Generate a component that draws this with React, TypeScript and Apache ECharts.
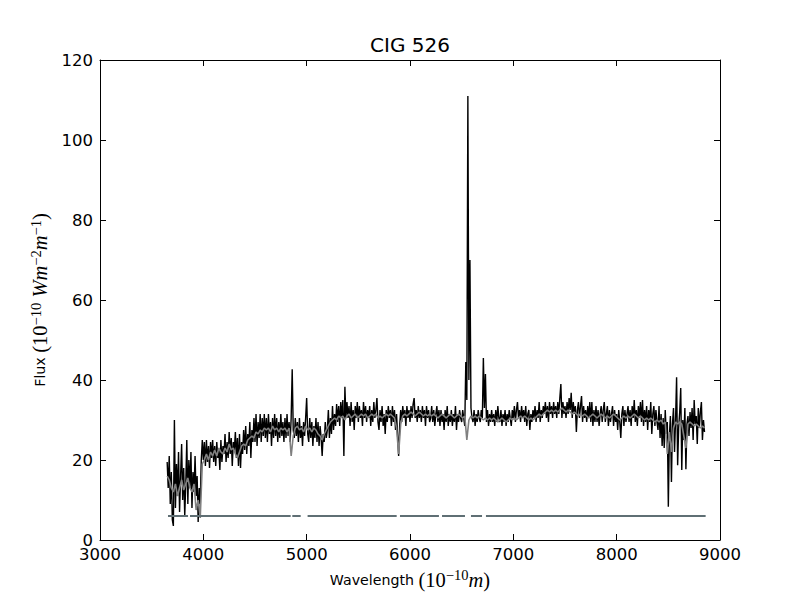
import React, { useEffect, useRef } from 'react';
import * as echarts from 'echarts';

// Observed spectrum (black): wavelength grid starts at 3650 Å, 10 Å per sample
const obsStart = 3650;
const obsStep = 10;
const obsFlux = [
  /*3650*/ 19.5, 13, 21, 9, 17,
  /*3700*/ 5, 3.5, 30, 8, 19, 11, 22, 7, 16, 24,
  /*3800*/ 10, 18, 6, 14, 25, 9, 20, 13, 22, 8,
  /*3900*/ 17, 12, 21, 11, 16, 4.5, 13, 9, 20, 25,
  /*4000*/ 20, 24.5, 18.5, 25, 19.5, 23.5, 18, 24.5, 20.5, 25,
  /*4100*/ 19.5, 23.5, 18.5, 24.5, 20.5, 22.5, 17.5, 25, 19.5, 23.5,
  /*4200*/ 21.5, 26.5, 19.5, 24.5, 20.5, 27, 21.5, 25.5, 18.5, 24.5,
  /*4300*/ 22.5, 27, 20.5, 25.5, 18.5, 26.5, 18, 24.5, 21.5, 27.5,
  /*4400*/ 22.5, 28.5, 21.5, 26.5, 23.5, 29.5, 20.5, 27.5, 24.5, 30.5,
  /*4500*/ 24.5, 31.5, 23.5, 29.5, 25.5, 31.5, 24.5, 30.5, 26, 31.5,
  /*4600*/ 25.5, 30.5, 24.5, 31.5, 26.5, 29.5, 23.5, 30.5, 25.5, 31.5,
  /*4700*/ 26, 30.5, 24.5, 29.5, 25.5, 31.5, 26, 29.5, 24.5, 30.5,
  /*4800*/ 25.5, 31.5, 26, 29.5, 24.5, 30.5, 42.7, 27.5, 25.5, 30.5,
  /*4900*/ 26, 29.5, 24.5, 30.5, 25.5, 28.5, 23.5, 29.5, 26, 30.5,
  /*5000*/ 35.5, 26.5, 24.5, 30.5, 25.5, 29.5, 23.5, 28.5, 25.5, 30.5,
  /*5100*/ 24.5, 29.5, 23.5, 28.5, 25.5, 21, 26.5, 24.5, 29.5, 25.5,
  /*5200*/ 27.5, 32.5, 25.5, 30.5, 26.5, 33.5, 27.5, 31.5, 28.5, 34,
  /*5300*/ 29.5, 33.5, 28.5, 34.5, 30.5, 35, 21, 38.3, 30.5, 34.5,
  /*5400*/ 30.5, 33.5, 28.5, 34.5, 29.5, 32.5, 27.5, 33.5, 30.5, 34.5,
  /*5500*/ 29.5, 33.5, 30.5, 32.5, 28.5, 34.5, 30.5, 33.5, 29.5, 32.5,
  /*5600*/ 30.5, 33.5, 28.5, 32.5, 29.5, 34.5, 30.5, 32.5, 35.5, 29.5,
  /*5700*/ 27.5, 32.5, 29.5, 33.5, 28.5, 31.5, 26.5, 32.5, 29.5, 33.5,
  /*5800*/ 30.5, 32.5, 28.5, 33.5, 29.5, 32.5, 27.5, 31.5, 26, 21,
  /*5900*/ 28.5, 32.5, 29.5, 33.5, 30.5, 32.5, 28.5, 33.5, 30.5, 32.5,
  /*6000*/ 29.5, 33.5, 30.5, 34, 35.5, 30.5, 32.5, 29.5, 33.5, 30.5,
  /*6100*/ 32.5, 29.5, 33.5, 30.5, 32.5, 28.5, 33.5, 30.5, 32.5, 29.5,
  /*6200*/ 30.5, 33.5, 29.5, 32.5, 28.5, 31.5, 33.5, 29.5, 32.5, 28.5,
  /*6300*/ 32.5, 29.5, 31.5, 27.5, 32.5, 29.5, 33.5, 28.5, 31.5, 29.5,
  /*6400*/ 32.5, 28.5, 31.5, 29.5, 33.5, 27.5, 31.5, 29.5, 32.5, 30.5,
  /*6500*/ 29.5, 32.5, 30.5, 28.5, 44.5, 35, 111, 40, 70, 33,
  /*6600*/ 30.5, 29.5, 32.5, 28.5, 31.5, 29.5, 32.5, 30.5, 29.5, 32.5,
  /*6700*/ 30.5, 45.5, 33, 41.5, 29.5, 32.5, 28.5, 31.5, 29.5, 32.5,
  /*6800*/ 29.5, 31.5, 28.5, 32.5, 29.5, 33.5, 30.5, 29.5, 32.5, 28.5,
  /*6900*/ 31.5, 29.5, 32.5, 28.5, 31.5, 29.5, 32.5, 30.5, 28.5, 32.5,
  /*7000*/ 30.5, 33.5, 29.5, 32.5, 34.5, 30.5, 32.5, 29.5, 33.5, 30.5,
  /*7100*/ 32.5, 29.5, 33.5, 28.5, 31.5, 32.5, 27.5, 31.5, 29.5, 32.5,
  /*7200*/ 30.5, 33.5, 29.5, 32.5, 30.5, 34.5, 29.5, 32.5, 30.5, 33.5,
  /*7300*/ 31.5, 34.5, 30.5, 33.5, 29.5, 34.5, 31.5, 33.5, 30.5, 34.5,
  /*7400*/ 31.5, 33.5, 30.5, 34.5, 31.5, 35.5, 39, 30.5, 34.5, 31.5,
  /*7500*/ 33.5, 30.5, 34.5, 31.5, 35.5, 32.5, 36.8, 30.5, 34.5, 31.5,
  /*7600*/ 33.5, 27, 32.5, 34.5, 30.5, 33.5, 36, 29.5, 33.5, 30.5,
  /*7700*/ 32.5, 29.5, 33.5, 30.5, 34.5, 29.5, 34.5, 28.5, 32.5, 29.5,
  /*7800*/ 33.5, 29.5, 32.5, 28.5, 31.5, 33.5, 29.5, 32.5, 34.5, 29.5,
  /*7900*/ 31.5, 33.5, 28.5, 32.5, 29.5, 31.5, 33.5, 28.5, 32.5, 29.5,
  /*8000*/ 31.5, 27.5, 32.5, 29.5, 25.5, 31.5, 33.5, 28.5, 32.5, 29.5,
  /*8100*/ 31.5, 33.5, 29.5, 32.5, 28.5, 33.5, 30.5, 35, 29.5, 32.5,
  /*8200*/ 28.5, 33.5, 30.5, 34.5, 29.5, 35, 28.5, 32.5, 29.5, 33.5,
  /*8300*/ 27.5, 32.5, 29.5, 34.5, 26.5, 31.5, 33.5, 28.5, 32.5, 29.5,
  /*8400*/ 27.5, 33.5, 25.5, 31.5, 23.5, 30.5, 23, 32.5, 26.5, 29.5,
  /*8500*/ 8.3, 26, 31, 14.5, 29, 33, 22, 30, 40.7, 18.7,
  /*8600*/ 28, 32, 38, 17.5, 30, 25, 33, 17.7, 29, 31,
  /*8700*/ 26, 32, 28, 33, 25, 35, 29, 31, 24, 33,
  /*8800*/ 28, 32, 34.5, 25, 30, 27,
];

// Model / synthetic spectrum (grey): starts at 3650 Å, 20 Å per sample
const modelStart = 3650;
const modelStep = 20;
const modelFlux = [
  /*3650*/ 16, 15, 13, 12, 14, 11, 13, 15, 12.5, 14,
  /*3850*/ 15.5, 13, 12, 14, 7.5, 10, 5.5, 19, 20, 21.5,
  /*4050*/ 20, 22, 21, 22.5, 21, 23, 22, 21.5, 23, 22,
  /*4250*/ 24, 22.5, 23, 21.5, 20.5, 22, 23.5, 24, 23.5, 25,
  /*4450*/ 25.5, 26, 25.5, 27, 26.5, 27.5, 27, 28, 27.5, 28,
  /*4650*/ 27, 28.5, 27.5, 28, 27, 28, 27.5, 28, 27, 28,
  /*4850*/ 21, 26, 28, 28.5, 27.5, 28, 27, 28.5, 27.5, 28,
  /*5050*/ 27, 28, 27.5, 26.5, 26, 25, 26.5, 27.5, 28.5, 29.5,
  /*5250*/ 30, 30.5, 30, 31, 30.5, 31, 30, 31, 31.5, 30.5,
  /*5450*/ 31, 31.5, 30.5, 31, 31.5, 31, 31.5, 30.5, 31, 31.5,
  /*5650*/ 31, 31.5, 30.5, 31, 30.5, 31, 31.5, 31, 31.5, 31,
  /*5850*/ 30.5, 28, 21.5, 29, 31, 31.5, 31, 31.5, 32, 31.5,
  /*6050*/ 31, 31.5, 32, 31.5, 31, 31.5, 31, 31.5, 31, 31.5,
  /*6250*/ 31, 30.5, 31, 31.5, 31, 30.5, 31, 31.5, 31, 30.5,
  /*6450*/ 31, 31.5, 31, 30.5, 31, 25, 30, 31, 30.5, 31,
  /*6650*/ 30.5, 31, 30.5, 30, 30.5, 30, 30.5, 30, 30.5, 30,
  /*6850*/ 29.5, 30, 30.5, 30, 29.5, 30, 30.5, 30, 30.5, 30,
  /*7050*/ 30.5, 31, 30.5, 31, 30.5, 30, 30.5, 30, 30.5, 31,
  /*7250*/ 31.5, 31, 31.5, 32, 32.5, 32, 32.5, 32, 32.5, 32,
  /*7450*/ 32.5, 33, 32.5, 32, 32.5, 32, 31.5, 32, 31.5, 31,
  /*7650*/ 31.5, 31, 31.5, 31, 30.5, 31, 31.5, 31, 30.5, 31,
  /*7850*/ 31.5, 31, 30.5, 31, 30.5, 31, 31.5, 31, 30.5, 30,
  /*8050*/ 30.5, 31, 30.5, 31, 30.5, 31, 31.5, 31, 30.5, 31,
  /*8250*/ 30.5, 30, 30.5, 30, 30.5, 30, 29.5, 30, 29.5, 30,
  /*8450*/ 29, 29.5, 21.5, 27, 22, 28, 29.5, 29, 29.5, 29,
  /*8650*/ 26, 23, 29, 29.5, 29, 28.5, 29, 28.5, 28, 28.5,
  /*8850*/ 28,
];

// Masked-region indicator line (constant level, broken where masked)
const maskLevel = 6;
const maskSegments = [
  [3658, 3852],
  [3871, 4845],
  [4861, 4942],
  [5009, 5871],
  [5903, 6280],
  [6310, 6532],
  [6590, 6697],
  [6735, 8861],
];

const xMin = 3000;
const xMax = 9000;
const xInterval = 1000;
const yMin = 0;
const yMax = 120;
const yInterval = 20;

const titleText = 'CIG 526';

export default function App() {
  const ref = useRef<HTMLDivElement>(null);

  useEffect(() => {
    if (!ref.current) return;
    const chart = echarts.init(ref.current, null, { renderer: 'svg' });

    const obsData = obsFlux.map((f, i) => [obsStart + i * obsStep, f]);
    const modelData = modelFlux.map((f, i) => [modelStart + i * modelStep, f]);
    const maskData: any[] = [];
    maskSegments.forEach(([a, b]) => {
      maskData.push([a, maskLevel], [b, maskLevel], [b, '-']);
    });

    const sans = 'DejaVu Sans';
    const serif = 'Liberation Serif';
    const nameRich = {
      t: { fontFamily: sans, fontSize: 14.2, color: '#000', lineHeight: 24, verticalAlign: 'middle' },
      m: { fontFamily: serif, fontSize: 20.5, color: '#000', lineHeight: 24, verticalAlign: 'middle' },
      i: { fontFamily: serif, fontSize: 20.5, fontStyle: 'italic', color: '#000', lineHeight: 24, verticalAlign: 'middle' },
      s: { fontFamily: serif, fontSize: 14.5, color: '#000', lineHeight: 12, verticalAlign: 'top' },
    };

    const tickLabel = {
      color: '#000',
      fontFamily: sans,
      fontSize: 16.5,
      formatter: (v: number) => String(v),
    };
    const axisLine = { show: true, onZero: false, lineStyle: { color: '#000', width: 1 } };
    const axisTick = { show: true, inside: true, length: 6, lineStyle: { color: '#000', width: 1 } };

    chart.setOption({
      animation: false,
      backgroundColor: '#fff',
      title: {
        text: titleText,
        left: 410,
        top: 35,
        padding: 0,
        textAlign: 'center',
        textStyle: { fontFamily: sans, fontSize: 20, fontWeight: 'normal', color: '#000' },
      },
      grid: { left: 100, right: 80, top: 60, bottom: 60, containLabel: false, outerBoundsMode: 'none' },
      xAxis: [
        {
          type: 'value',
          min: xMin,
          max: xMax,
          interval: xInterval,
          position: 'bottom',
          axisLine,
          axisTick,
          splitLine: { show: false },
          axisLabel: { ...tickLabel, margin: 6, showMinLabel: true, showMaxLabel: true },
          name: '{t|Wavelength }{m|(10}{s|−10}{i|m}{m|)}',
          nameLocation: 'middle',
          nameGap: 12,
          nameTextStyle: { rich: nameRich },
        },
        {
          type: 'value',
          min: xMin,
          max: xMax,
          interval: xInterval,
          position: 'top',
          axisLine,
          axisTick,
          splitLine: { show: false },
          axisLabel: { show: false },
        },
      ],
      yAxis: [
        {
          type: 'value',
          min: yMin,
          max: yMax,
          interval: yInterval,
          position: 'left',
          axisLine,
          axisTick,
          splitLine: { show: false },
          axisLabel: { ...tickLabel, margin: 7, showMinLabel: true, showMaxLabel: true },
          name: '{t|Flux }{m|(10}{s|−10}{i| Wm}{s|−2}{i|m}{s|−1}{m|)}',
          nameLocation: 'middle',
          nameRotate: 90,
          nameGap: 38,
          nameTextStyle: { rich: nameRich },
        },
        {
          type: 'value',
          min: yMin,
          max: yMax,
          interval: yInterval,
          position: 'right',
          axisLine,
          axisTick,
          splitLine: { show: false },
          axisLabel: { show: false },
        },
      ],
      series: [
        {
          type: 'line',
          xAxisIndex: 0,
          yAxisIndex: 0,
          data: obsData,
          showSymbol: false,
          symbol: 'none',
          lineStyle: { color: '#000', width: 1.4 },
          silent: true,
        },
        {
          type: 'line',
          xAxisIndex: 0,
          yAxisIndex: 0,
          data: modelData,
          showSymbol: false,
          symbol: 'none',
          lineStyle: { color: '#808080', width: 1.6 },
          silent: true,
        },
        {
          type: 'line',
          xAxisIndex: 0,
          yAxisIndex: 0,
          data: maskData,
          connectNulls: false,
          showSymbol: false,
          symbol: 'none',
          lineStyle: { color: '#5f6f74', width: 2 },
          silent: true,
        },
      ],
    });

    return () => {
      chart.dispose();
    };
  }, []);

  return (
    <div
      ref={ref}
      style={{ position: 'absolute', left: 0, top: 0, width: 800, height: 600, background: '#fff' }}
    />
  );
}
